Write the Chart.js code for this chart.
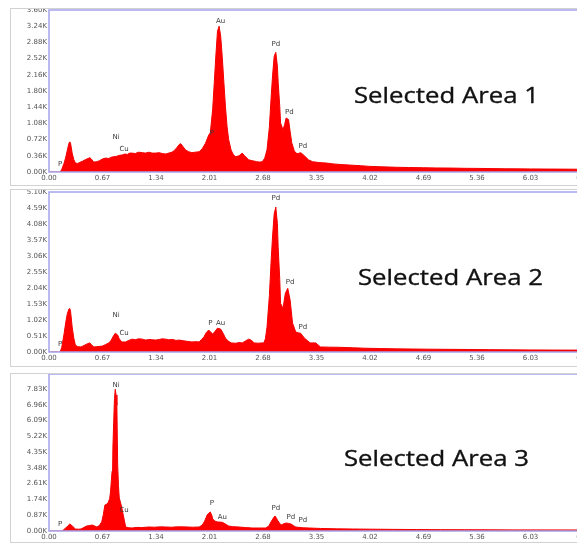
<!DOCTYPE html>
<html>
<head>
<meta charset="utf-8">
<script src="https://cdn.jsdelivr.net/npm/chart.js@4"></script>
<style>
    html, body { margin: 0; padding: 0; background: #fff; }
    body { width: 577px; height: 544px; overflow: hidden; position: relative; }
    .panel { position: absolute; left: 10px; width: 600px; border: 1px solid #d2d2d2; background: #fff; }
    .panel canvas { position: absolute; left: 0; top: 0; }
    .area-title {
        position: absolute; font-family: "Open Sans", sans-serif; font-size: 22px; font-weight: 400;
        color: #111; -webkit-text-stroke: 0.35px #111; white-space: nowrap;
        transform: scaleX(1.17); transform-origin: left top;
    }
</style>
</head>
<body>
<div class="panel" id="p1" style="top:8px;height:176px;"><canvas id="c1" width="581" height="176"></canvas></div>
<div class="panel" id="p2" style="top:189px;height:176px;"><canvas id="c2" width="581" height="176"></canvas></div>
<div class="panel" id="p3" style="top:373px;height:168px;"><canvas id="c3" width="581" height="168"></canvas></div>
<div class="area-title" style="left:354px;top:79px;">Selected Area 1</div>
<div class="area-title" style="left:358px;top:261px;">Selected Area 2</div>
<div class="area-title" style="left:344px;top:442px;">Selected Area 3</div>
<script>
// energy axis ticks (keV) shared by the three spectra
const xTicks = [0, 0.67, 1.34, 2.01, 2.68, 3.35, 4.02, 4.69, 5.36, 6.03, 6.70];

// Selected Area 1
const energy1 = [0.00, 0.14, 0.16, 0.19, 0.21, 0.23, 0.25, 0.26, 0.27, 0.29, 0.31, 0.33, 0.36, 0.38, 0.42, 0.46, 0.49, 0.51, 0.53, 0.56,
    0.60, 0.63, 0.67, 0.71, 0.75, 0.78, 0.81, 0.85, 0.88, 0.92, 0.95, 0.98, 1.01, 1.04, 1.08, 1.12, 1.17, 1.21, 1.25, 1.29,
    1.34, 1.38, 1.42, 1.46, 1.50, 1.54, 1.57, 1.60, 1.63, 1.65, 1.68, 1.71, 1.75, 1.79, 1.83, 1.88, 1.92, 1.96, 2.00, 2.02,
    2.05, 2.07, 2.09, 2.11, 2.13, 2.15, 2.17, 2.19, 2.21, 2.23, 2.25, 2.28, 2.31, 2.34, 2.38, 2.42, 2.45, 2.50, 2.55, 2.60,
    2.64, 2.67, 2.70, 2.73, 2.76, 2.78, 2.80, 2.82, 2.84, 2.86, 2.87, 2.89, 2.90, 2.93, 2.95, 2.97, 2.99, 3.00, 3.02, 3.04,
    3.07, 3.09, 3.12, 3.15, 3.18, 3.21, 3.25, 3.30, 3.38, 3.47, 3.56, 3.66, 3.76, 3.90, 4.02, 4.17, 4.35, 4.50, 4.69, 4.85,
    5.02, 5.20, 5.36, 5.55, 5.70, 5.86, 6.03, 6.20, 6.40, 6.60, 6.80];
const counts1 = [0, 0, 60, 200, 330, 490, 640, 670, 640, 420, 280, 200, 190, 210, 240, 280, 300, 320, 290, 220,
    230, 250, 290, 310, 300, 330, 340, 350, 370, 380, 400, 390, 420, 420, 410, 440, 430, 420, 440, 420,
    420, 430, 410, 400, 420, 440, 480, 540, 610, 630, 560, 490, 450, 430, 440, 450, 520, 640, 820, 870,
    1400, 1990, 2600, 3130, 3240, 3020, 2550, 1990, 1450, 1010, 720, 490, 380, 340, 360, 420, 360, 270, 250, 230,
    220, 230, 300, 490, 1000, 1610, 2150, 2570, 2660, 2350, 1990, 1450, 1090, 940, 1050, 1200, 1180, 1160, 900, 650,
    480, 420, 410, 430, 390, 340, 270, 230, 210, 200, 180, 165, 155, 140, 125, 115, 105, 100, 95, 90,
    88, 82, 80, 76, 72, 70, 68, 66, 64, 62, 60];
const yTicks1 = [0, 360, 720, 1080, 1440, 1800, 2160, 2520, 2880, 3240, 3600];
const peakNames1 = ['P', 'Ni', 'Cu', 'P', 'Au', 'Pd', 'Pd', 'Pd'];
const peakE1 = [0.14, 0.84, 0.94, 2.04, 2.15, 2.84, 3.01, 3.18];
const peakC1 = [180, 780, 515, 870, 3350, 2840, 1320, 580];

// Selected Area 2
const energy2 = [0.00, 0.14, 0.16, 0.19, 0.21, 0.23, 0.25, 0.26, 0.27, 0.29, 0.31, 0.33, 0.36, 0.40, 0.44, 0.47, 0.51, 0.53, 0.56, 0.60,
    0.64, 0.67, 0.71, 0.75, 0.78, 0.80, 0.83, 0.86, 0.88, 0.91, 0.96, 1.00, 1.04, 1.08, 1.12, 1.17, 1.21, 1.25, 1.29, 1.34,
    1.38, 1.42, 1.46, 1.50, 1.55, 1.59, 1.63, 1.68, 1.73, 1.79, 1.84, 1.88, 1.91, 1.94, 1.97, 2.00, 2.03, 2.05, 2.08, 2.11,
    2.15, 2.18, 2.21, 2.25, 2.28, 2.34, 2.38, 2.42, 2.46, 2.50, 2.53, 2.57, 2.62, 2.66, 2.69, 2.71, 2.73, 2.76, 2.78, 2.80,
    2.82, 2.84, 2.86, 2.87, 2.89, 2.90, 2.93, 2.96, 2.99, 3.02, 3.05, 3.09, 3.12, 3.15, 3.20, 3.27, 3.34, 3.40, 3.50, 3.63,
    3.80, 3.96, 4.15, 4.35, 4.55, 4.75, 5.00, 5.25, 5.50, 5.75, 6.00, 6.30, 6.60, 6.80];
const counts2 = [0, 0, 150, 600, 950, 1230, 1370, 1390, 1300, 800, 450, 220, 170, 160, 210, 250, 290, 240, 160, 170,
    180, 190, 240, 290, 380, 480, 600, 540, 420, 320, 320, 370, 410, 390, 420, 410, 380, 400, 390, 380,
    400, 420, 410, 390, 400, 370, 380, 360, 340, 320, 330, 320, 400, 480, 620, 700, 620, 570, 660, 760,
    730, 600, 440, 340, 290, 280, 300, 290, 350, 410, 380, 290, 280, 290, 290, 420, 790, 1800, 2820, 3700,
    4400, 4620, 4100, 3330, 2300, 1550, 1390, 1870, 2030, 1650, 920, 640, 610, 600, 440, 290, 290, 160, 155, 150,
    135, 120, 110, 100, 95, 90, 85, 80, 75, 70, 66, 62, 60, 58];
const yTicks2 = [0, 510, 1020, 1530, 2040, 2550, 3060, 3570, 4080, 4590, 5100];
const peakNames2 = ['P', 'Ni', 'Cu', 'P', 'Au', 'Pd', 'Pd', 'Pd'];
const peakE2 = [0.14, 0.84, 0.94, 2.02, 2.15, 2.84, 3.02, 3.18];
const peakC2 = [250, 1170, 600, 920, 920, 4910, 2220, 790];

// Selected Area 3
const energy3 = [0.00, 0.16, 0.18, 0.21, 0.24, 0.26, 0.28, 0.30, 0.33, 0.37, 0.40, 0.44, 0.47, 0.51, 0.54, 0.57, 0.60, 0.63, 0.66, 0.68,
    0.70, 0.72, 0.74, 0.76, 0.77, 0.79, 0.80, 0.81, 0.82, 0.83, 0.84, 0.85, 0.86, 0.87, 0.88, 0.90, 0.91, 0.93, 0.95, 0.96,
    1.00, 1.04, 1.10, 1.16, 1.25, 1.32, 1.40, 1.46, 1.54, 1.60, 1.67, 1.74, 1.80, 1.88, 1.92, 1.95, 1.98, 2.00, 2.02, 2.04,
    2.05, 2.08, 2.11, 2.14, 2.17, 2.21, 2.25, 2.30, 2.38, 2.46, 2.55, 2.63, 2.71, 2.75, 2.78, 2.81, 2.83, 2.85, 2.86, 2.89,
    2.91, 2.94, 2.97, 3.00, 3.03, 3.06, 3.09, 3.17, 3.26, 3.40, 3.60, 3.80, 4.02, 4.30, 4.60, 4.90, 5.20, 5.50, 5.80, 6.10,
    6.40, 6.80];
const counts3 = [0, 0, 60, 165, 300, 385, 330, 240, 110, 100, 110, 200, 275, 300, 330, 280, 220, 300, 500, 900,
    1430, 1480, 1540, 1800, 2150, 3300, 4570, 6000, 7320, 7820, 7500, 6940, 3630, 2500, 1820, 1500, 1320, 880, 450, 220,
    180, 165, 200, 190, 220, 210, 230, 220, 210, 230, 230, 220, 210, 220, 330, 550, 880, 980, 1050, 850,
    660, 540, 500, 490, 480, 380, 275, 240, 220, 190, 165, 165, 165, 260, 500, 720, 830, 700, 600, 420,
    330, 400, 440, 420, 385, 300, 220, 180, 165, 140, 120, 110, 100, 90, 80, 74, 70, 66, 62, 60,
    58, 56];
const yTicks3 = [0, 870, 1740, 2610, 3480, 4350, 5220, 6090, 6960, 7830];
const peakNames3 = ['P', 'Ni', 'Cu', 'P', 'Au', 'Pd', 'Pd', 'Pd'];
const peakE3 = [0.14, 0.84, 0.94, 2.04, 2.17, 2.84, 3.03, 3.18];
const peakC3 = [385, 8040, 1160, 1540, 770, 1270, 770, 600];

// solid red area under the spectrum, from the points the line controller placed
const areaPlugin = {
    id: 'area',
    beforeDatasetsDraw(chart) {
        const pts = chart.getDatasetMeta(0).data;
        const base = chart.scales.y.getPixelForValue(0);
        const ctx = chart.ctx;
        ctx.save();
        ctx.beginPath();
        ctx.moveTo(pts[0].x, base);
        pts.forEach(p => ctx.lineTo(p.x, p.y));
        ctx.lineTo(pts[pts.length - 1].x, base);
        ctx.closePath();
        ctx.fillStyle = '#ff0000';
        ctx.fill();
        ctx.restore();
    }
};

// plot frame + element labels
const framePlugin = {
    id: 'frame',
    afterDatasetsDraw(chart, args, opts) {
        const ctx = chart.ctx;
        const a = chart.chartArea;
        ctx.save();
        ctx.strokeStyle = '#a4a4ec';
        ctx.lineWidth = 1.5;
        ctx.strokeRect(a.left, a.top, a.right - a.left, a.bottom - a.top);
        ctx.font = '7px "DejaVu Sans", sans-serif';
        ctx.fillStyle = '#3a3a3a';
        ctx.textAlign = 'center';
        ctx.textBaseline = 'middle';
        const xs = chart.scales.x, ys = chart.scales.y;
        opts.names.forEach((n, i) => {
            ctx.fillText(n, xs.getPixelForValue(opts.e[i]), ys.getPixelForValue(opts.c[i]));
        });
        ctx.restore();
    }
};

function makeSpectrum(id, energy, counts, yMax, yTicks, names, pe, pc, padTop, xAxisH) {
    const ctx = document.getElementById(id).getContext('2d');
    return new Chart(ctx, {
        type: 'line',
        data: {
            datasets: [{
                data: energy.map((e, i) => ({ x: e, y: counts[i] })),
                borderColor: '#f40000',
                borderWidth: 1,
                pointRadius: 0,
                tension: 0,
                fill: false
            }]
        },
        options: {
            responsive: false,
            animation: false,
            layout: { padding: { top: padTop, left: 0, right: 0, bottom: 0 } },
            plugins: {
                legend: { display: false },
                tooltip: { enabled: false },
                frame: { names: names, e: pe, c: pc }
            },
            scales: {
                x: {
                    type: 'linear',
                    min: 0,
                    max: 6.8,
                    afterFit: s => { s.height = xAxisH; s.paddingLeft = 0; s.paddingRight = 0; },
                    afterBuildTicks: s => { s.ticks = xTicks.map(v => ({ value: v })); },
                    grid: { display: false, drawTicks: false },
                    border: { display: false },
                    ticks: {
                        padding: 2,
                        maxRotation: 0,
                        autoSkip: false,
                        color: '#555',
                        font: { family: 'DejaVu Sans', size: 7 },
                        callback: v => v.toFixed(2)
                    }
                },
                y: {
                    min: 0,
                    max: yMax,
                    afterFit: s => { s.width = 38; s.paddingTop = 0; s.paddingBottom = 0; },
                    afterBuildTicks: s => { s.ticks = yTicks.map(v => ({ value: v })); },
                    grid: { display: false, drawTicks: false },
                    border: { display: false },
                    ticks: {
                        padding: 2,
                        autoSkip: false,
                        color: '#555',
                        font: { family: 'DejaVu Sans', size: 7 },
                        callback: v => (v / 1000).toFixed(2) + 'K'
                    }
                }
            }
        },
        plugins: [areaPlugin, framePlugin]
    });
}

makeSpectrum('c1', energy1, counts1, 3600, yTicks1, peakNames1, peakE1, peakC1, 1, 13);
makeSpectrum('c2', energy2, counts2, 5100, yTicks2, peakNames2, peakE2, peakC2, 2, 14);
makeSpectrum('c3', energy3, counts3, 8660, yTicks3, peakNames3, peakE3, peakC3, 0, 11);
</script>
</body>
</html>
